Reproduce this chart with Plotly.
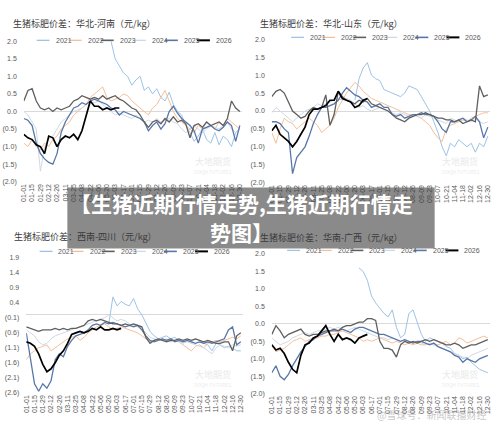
import plotly.graph_objects as go

W, H = 500, 437

years = ["2021", "2022", "2023", "2024", "2025", "2026"]
colors = {"2021": "#9dc3e6", "2022": "#f5bf98", "2023": "#5f5f5f",
          "2024": "#cfd8e6", "2025": "#5877a8", "2026": "#000000"}
widths = {"2021": 1.0, "2022": 1.0, "2023": 1.3, "2024": 1.0, "2025": 1.3, "2026": 1.7}
draw_order = ["2021", "2022", "2024", "2025", "2023", "2026"]

# weekly points, day of (leap) year
days = list(range(0, 365, 7))
tick_days = list(range(0, 365, 14))
tick_labels = ["01-01", "01-15", "01-29", "02-12", "02-26", "03-11", "03-25", "04-08",
               "04-22", "05-06", "05-20", "06-03", "06-17", "07-01", "07-15", "07-29",
               "08-12", "08-26", "09-09", "09-23", "10-07", "10-21", "11-04", "11-18",
               "12-02", "12-16", "12-30"]

# 华北-河南
hn_2021 = [None] * 21 + [2.0, 1.5, 1.3, 1.1, 1.0, 0.75, 0.9, 1.0, 0.6, 0.7, 0.5, 0.65, 0.4, 0.3,
                         0.55, 0.2, 0.0, -0.1, -0.4, -0.6, -0.85, -0.7, -0.5, -0.8, -0.9, -0.6,
                         -0.95, -0.7, -0.8, -1.0, -0.6, -0.5]
hn_2022 = [-0.9, -1.0, -0.8, -1.0, -1.1, -0.9, -1.0, -0.8, -0.7, -0.5,
           -0.4, -0.3, -0.1, 0.0, 0.1, 0.2, 0.4, 0.5, 0.6, 0.7,
           0.4, 0.3, 0.35, 0.4, 0.5, 0.45, 0.3, 0.2, 0.1, 0.0,
           -0.1, 0.1, 0.2, 0.4, 0.6, 0.3, 0.0, -0.2, -0.3, -0.4,
           -0.5, -0.6, -0.4, -0.5, -0.3, -0.4, -0.5, -0.3, -0.4, -0.2,
           -0.3, -0.4, -0.5]
hn_2023 = [0.3, 0.6, 0.65, 0.3, 0.1, 0.05, 0.1, 0.0, 0.1, 0.05,
           0.1, 0.15, 0.3, 0.35, 0.45, 0.4, 0.35, 0.4, 0.35, 0.45,
           0.35, 0.4, 0.45, 0.35, 0.3, 0.2, 0.1, 0.05, -0.1, -0.3,
           -0.45, -0.3, -0.25, -0.35, -0.2, -0.3, -0.15, -0.3, -0.25, -0.35,
           -0.75, -0.4, -0.35, -0.45, -0.3, -0.4, -0.35, -0.3, -0.4, -0.2,
           0.3, 0.1, 0.0]
hn_2024 = [0.0, -0.1, -0.3, -0.5, -1.7, -1.0, -0.8, -0.7, -0.5, -0.3,
           -0.2, -0.1, 0.0, 0.05, 0.1, 0.2, 0.3, 0.25, 0.3, 0.2,
           0.1, 0.0, -0.1, -0.05, -0.1, -0.15, -0.2, -0.1, -0.2, -0.3,
           -0.25, -0.3, -0.2, -0.3, -0.25, -0.2, -0.3, -0.35, -0.5, -0.6,
           -0.5, -0.4, -0.5, -0.6, -0.5, -0.4, -0.45, -0.5, -0.4, -0.3,
           -0.5, -0.6, -0.5]
hn_2025 = [-0.2, -0.25, -0.4, -0.9, -1.2, -1.35, -1.45, -1.5, -1.2, -0.6,
           -0.3, -0.1, 0.1, 0.15, 0.25, 0.2, 0.3, 0.35, 0.3, 0.25,
           0.2, 0.1, 0.05, -0.1, 0.0, -0.05, -0.1, -0.15, -0.2, -0.3,
           -0.55, -0.4, -0.3, -0.5, -0.35, 0.0, 0.15, -0.05, -0.2, -0.3,
           -0.4, -0.55, -0.9, -0.5, -0.45, -0.4, -0.5, -0.55, -0.45, -0.3,
           -0.4, -0.85, -0.4]
hn_2026 = [-0.65, -0.75, -0.8, -0.95, -1.0, -1.2, -0.7, -0.75, -1.0, -0.8,
           -0.7, -0.75, -0.65, -0.8, -0.55, -0.15, 0.3, 0.15, 0.15, 0.05,
           0.1, 0.05, 0.1, 0.1]

# 华北-山东
sd_2021 = [None] * 20 + [0.3, 0.9, 1.2, 1.35, 1.0, 0.9, 0.85, 0.6, 0.55, 0.5, 0.45, 0.4, 0.5,
                         0.7, 0.65, 0.6, 0.4, 0.2, 0.0, -0.3, -0.6, -1.0, -1.25, -0.9, -1.0,
                         -0.8, -0.9, -1.0, -0.9, -1.15, -0.9, -1.0, -0.7]
sd_2022 = [-0.6, -0.9, -0.5, -0.2, -0.3, -0.35, -0.5, -0.4, -0.3, -0.2,
           -0.3, -0.4, -0.6, -0.5, -0.4, -0.2, 0.1, 0.3, 0.5, 0.65,
           0.8, 0.7, 0.55, 0.45, 0.35, 0.3, 0.25, 0.2, 0.15, 0.1,
           0.05, 0.0, -0.05, -0.1, -0.1, -0.15, -0.2, -0.3, -0.4, -0.6,
           -0.75, -0.85, -0.5, -0.4, -0.35, -0.3, -0.25, -0.3, -0.2, -0.15,
           -0.1, -0.05, -0.05]
sd_2023 = [0.4, 0.55, 0.6, 0.5, 0.25, 0.0, -0.1, -0.2, -0.15, 0.0,
           0.1, 0.05, 0.1, 0.45, -0.4, -0.1, 0.55, 0.4, 0.3, 0.25,
           0.2, 0.3, 0.25, 0.35, 0.2, 0.15, 0.1, 0.05, 0.0, -0.1,
           -0.2, -0.25, -0.3, -0.2, -0.15, -0.1, -0.1, -0.05, -0.1, -0.15,
           -0.2, -0.2, -0.25, -0.25, -0.3, -0.25, -0.35, -0.3, -0.25, -0.3,
           0.7, 0.4, 0.45]
sd_2024 = [-0.05, 0.1, 0.0, -0.1, -0.2, -0.3, -0.2, -0.1, 0.0, 0.05,
           0.1, 0.2, 0.15, 0.2, 0.25, 0.3, 0.35, 0.3, 0.35, 0.3,
           0.2, 0.1, 0.15, 0.05, 0.0, 0.05, 0.1, 0.05, 0.0, -0.05,
           -0.1, -0.05, -0.1, -0.15, -0.1, -0.15, -0.2, -0.1, -0.15, -0.2,
           -0.25, -0.3, -0.35, -0.2, -0.25, -0.3, -0.2, -0.25, -0.3, -0.2,
           -0.3, -0.35, -0.3]
sd_2025 = [-0.3, -0.3, -0.35, -0.5, -0.6, -1.75, -1.3, -1.15, -1.0, -0.7,
           -0.35, -0.1, 0.1, 0.1, 0.15, 0.2, 0.3, 0.5, 0.65, 0.55,
           0.45, 0.4, 0.3, 0.25, 0.1, 0.15, 0.2, 0.1, 0.1, -0.1,
           -0.15, -0.1, -0.2, -0.15, -0.1, -0.1, -0.05, -0.1, -0.1, -0.15,
           -0.3, -0.5, -0.6, -0.3, -0.3, -0.25, -0.2, -0.3, -0.25, -0.15,
           -0.3, -0.75, -0.45]
sd_2026 = [-0.55, -0.4, -0.65, -0.75, -0.85, -1.0, -0.85, -0.65, -0.45, -0.1,
           0.05, 0.05, 0.1, 0.15, 0.3, 0.3, 0.55, 0.35, 0.3, 0.25,
           0.1, 0.15, 0.3, 0.35]

# 西南-四川
sc_2021 = [None] * 20 + [-0.3, 0.6, 0.3, 0.45, 0.35, 0.3, 0.55, 0.2, 0.0, -0.3, -0.55, -0.7,
                         -0.8, -0.75, -0.7, -0.8, -0.75, -0.85, -0.9, -0.85, -0.9, -0.8, -0.85,
                         -0.95, -1.0, -1.2, -0.95, -1.0, -1.1, -1.05, -1.1, -1.2, -1.2]
sc_2022 = [-1.5, -1.3, -1.2, -1.1, -1.05, -1.0, -1.2, -1.1, -1.0, -0.9,
           -0.8, -0.75, -0.7, -0.85, -0.75, -0.6, -0.5, -0.4, -0.35, -0.3,
           -0.4, -0.5, -0.45, -0.4, -0.45, -0.5, -0.55, -0.6, -0.7, -0.8,
           -0.9, -0.85, -0.8, -0.85, -0.8, -0.9, -0.85, -0.9, -1.0, -1.1,
           -1.2, -1.05, -1.0, -1.1, -0.95, -0.9, -0.85, -0.9, -0.85, -0.8,
           -0.75, -0.8, -0.7]
sc_2023 = [-0.4, -0.45, -0.5, -0.55, -0.5, -0.5, -0.5, -0.45, -0.5, -0.45,
           -0.5, -0.45, -0.45, -0.4, -0.35, -0.2, -0.15, -0.2, -0.15, -0.2,
           -0.25, -0.3, -0.3, -0.35, -0.3, -0.35, -0.3, -0.35, -0.4, -0.75,
           -0.95, -0.85, -0.8, -0.85, -0.9, -0.85, -0.85, -0.8, -0.85, -0.8,
           -0.85, -0.8, -0.85, -0.9, -0.85, -0.9, -0.95, -0.95, -0.9, -0.9,
           -1.2, -0.7, -0.6]
sc_2024 = [-0.5, -0.6, -0.7, -0.9, -1.0, -0.95, -0.8, -0.7, -0.65, -0.6,
           -0.55, -0.5, -0.45, -0.4, -0.35, -0.3, -0.25, -0.2, -0.15, -0.1,
           0.0, -0.1, -0.2, -0.15, -0.2, -0.3, -0.35, -0.4, -0.5, -0.6,
           -0.75, -0.8, -0.85, -0.8, -0.85, -0.9, -0.85, -0.9, -0.95, -0.9,
           -0.95, -1.0, -1.05, -1.1, -1.2, -1.3, -1.1, -1.0, -1.05, -1.1,
           -1.0, -1.05, -1.0]
sc_2025 = [-0.6, -1.5, -2.3, -2.55, -2.3, -2.45, -2.2, -1.5, -1.3, -1.4,
           -1.05, -0.85, -0.7, -0.65, -0.6, -0.5, -0.35, -0.3, -0.35, -0.25,
           -0.3, -0.25, -0.3, -0.35, -0.4, -0.35, -0.4, -0.35, -0.5, -0.7,
           -0.85, -0.9, -0.85, -0.8, -0.85, -0.8, -0.9, -0.85, -0.9, -0.85,
           -0.9, -0.95, -0.9, -0.95, -0.9, -0.95, -0.9, -0.85, -0.8, -0.5,
           -0.4, -1.0, -0.9]
sc_2026 = [-0.9, -0.95, -1.05, -1.3, -1.65, -1.9, -1.8, -1.6, -1.35, -1.2,
           -0.95, -0.65, -0.6, -0.55, -0.6, -0.55, -0.45, -0.5, -0.4, -0.5,
           -0.5, -0.45, -0.5, -0.45]

# 华南-广西
gx_2021 = [None] * 21 + [1.6, 1.5, 1.25, 0.8, 0.6, 0.45, 0.3, 0.2, 0.4, -0.1, -0.4, -0.3, 0.3,
                         0.4, 0.05, -0.3, -0.5, -0.4, -0.45, -0.5, -0.55, -0.65, -0.7, -0.85,
                         -0.9, -1.0, -0.95, -1.1, -1.2, -1.3, -1.35, -1.4]
gx_2022 = [-0.6, -0.8, -0.75, -0.7, -0.6, -0.5, -0.45, -0.4, -0.5, -0.45,
           -0.4, -0.4, -0.35, -0.35, -0.3, -0.3, -0.25, -0.2, -0.25, -0.3,
           -0.35, -0.4, -0.5, -0.45, -0.5, -0.45, -0.4, -0.45, -0.5, -0.55,
           -0.5, -0.55, -0.6, -0.55, -0.6, -0.55, -0.6, -0.6, -0.55, -0.6,
           -0.6, -0.55, -0.5, -0.6, -0.55, -0.4, -0.45, -0.55, -0.5, -0.45,
           -0.4, -0.35, -0.4]
gx_2023 = [-0.3, -0.05, -0.2, -0.4, -0.3, -0.25, -0.2, -0.15, -0.3, -0.35,
           -0.3, -0.3, -0.25, -0.2, -0.2, -0.15, -0.2, -0.1, -0.05, -0.05,
           0.0, 0.05, 0.05, 0.15, 0.15, 0.1, -0.5, -0.7, -0.7, -0.75,
           -0.95, -0.6, -0.5, -0.55, -0.5, -0.55, -0.5, -0.45, -0.5, -0.45,
           -0.5, -0.55, -0.6, -0.6, -0.55, -0.6, -0.7, -0.65, -0.6, -0.6,
           -0.55, -0.5, -0.45]
gx_2024 = [-0.4, -0.5, -0.6, -0.55, -0.5, -0.4, -0.35, -0.3, -0.25, -0.3,
           -0.25, -0.2, -0.2, -0.15, -0.1, -0.15, -0.1, -0.15, -0.2, -0.15,
           -0.1, -0.15, -0.2, -0.25, -0.3, -0.35, -0.4, -0.4, -0.45, -0.4,
           -0.45, -0.5, -0.45, -0.5, -0.55, -0.5, -0.55, -0.6, -0.55, -0.6,
           -0.65, -0.7, -0.75, -0.8, -0.85, -0.9, -0.95, -1.0, -0.9, -0.85,
           -0.8, -0.75, -0.7]
gx_2025 = [-1.4, -1.2, -1.5, -1.6, -1.45, -1.2, -1.0, -0.8, -0.65, -0.5,
           -0.45, -0.35, -0.3, -0.25, -0.2, -0.2, -0.2, -0.15, -0.2, -0.25,
           -0.15, -0.1, -0.1, -0.15, -0.2, -0.25, -0.3, -0.3, -0.35, -0.4,
           -0.45, -0.5, -0.45, -0.5, -0.55, -0.5, -0.5, -0.55, -0.6, -0.55,
           -0.65, -0.7, -0.75, -0.8, -0.9, -0.95, -1.1, -1.0, -1.05, -1.1,
           -1.0, -0.95, -0.9]
gx_2026 = [-0.6, -0.75, -0.7, -0.85, -1.1, -1.3, -1.4, -0.9, -0.6, -0.55,
           -0.4, -0.35, -0.2, -0.05, -0.3, -0.5, -0.3, -0.45, -0.4, -0.45,
           -0.55, -0.4, -0.35, -0.3]

panels = [
    dict(title="生猪标肥价差：华北-河南（元/kg）",
         series=dict(zip(years, [hn_2021, hn_2022, hn_2023, hn_2024, hn_2025, hn_2026])),
         ymin=-2.0, nticks=9, box=(20, 240, 38, 181), title_at=(7, 20),
         legend_at=(50, 37, 32.4), logo_at=(211, 160)),
    dict(title="生猪标肥价差：华北-山东（元/kg）",
         series=dict(zip(years, [sd_2021, sd_2022, sd_2023, sd_2024, sd_2025, sd_2026])),
         ymin=-2.0, nticks=9, box=(270.5, 490.5, 36, 182), title_at=(257, 20),
         legend_at=(307, 34, 31.4), logo_at=(461, 160)),
    dict(title="生猪标肥价差：西南-四川（元/kg）",
         series=dict(zip(years, [sc_2021, sc_2022, sc_2023, sc_2024, sc_2025, sc_2026])),
         ymin=-2.6, nticks=10, box=(22.5, 241, 258.7, 396), title_at=(8, 237),
         legend_at=(53, 252, 31.4), logo_at=(211, 377)),
    dict(title="生猪标肥价差：华南-广西（元/kg）",
         series=dict(zip(years, [gx_2021, gx_2022, gx_2023, gx_2024, gx_2025, gx_2026])),
         ymin=-2.0, nticks=9, box=(270.5, 490.5, 254.7, 397), title_at=(257, 238),
         legend_at=(303, 251, 32.0), logo_at=(461, 377)),
]

TICK_FONT = dict(family="Liberation Sans Narrow, Liberation Sans, Arial", size=7, color="#595959")
CJK = "Noto Sans CJK SC"


def fx(v):
    return v / W


def fy(v):
    return 1 - v / H


def fmt(v):
    return f"({-v:.1f})" if v < -1e-9 else f"{v:.1f}"


fig = go.Figure()
annotations = []
shapes = []

for n, p in enumerate(panels, start=1):
    sfx = "" if n == 1 else str(n)
    for yr in draw_order:
        vals = p["series"][yr]
        fig.add_trace(go.Scatter(
            x=days[:len(vals)], y=vals, mode="lines", name=yr, showlegend=False,
            line=dict(color=colors[yr], width=widths[yr]),
            xaxis="x" + sfx, yaxis="y" + sfx, hoverinfo="skip"))

    x0, x1, y0, y1 = p["box"]
    yticks = [round(p["ymin"] + 0.5 * k, 1) for k in range(p["nticks"])]
    fig.update_layout(**{
        "xaxis" + sfx: dict(domain=[fx(x0), fx(x1)], range=[0, 367], anchor="y" + sfx,
                            tickvals=tick_days, ticktext=tick_labels, tickangle=-90,
                            tickfont=TICK_FONT, showgrid=False, zeroline=False,
                            showline=False, ticks="", fixedrange=True),
        "yaxis" + sfx: dict(domain=[fy(y1), fy(y0)], range=[yticks[0], yticks[-1]],
                            anchor="x" + sfx, tickvals=yticks,
                            ticktext=[fmt(v) for v in yticks], tickfont=TICK_FONT,
                            showgrid=False, zeroline=True, zerolinecolor="#d9d9d9",
                            zerolinewidth=1, showline=False, ticks="",
                            ticklabelstandoff=6, fixedrange=True),
    })

    tx, ty = p["title_at"]
    annotations.append(dict(x=fx(tx), y=fy(ty), xref="paper", yref="paper", text=p["title"],
                            showarrow=False, xanchor="left", yanchor="middle",
                            font=dict(family=CJK, size=9, color="#3a3a3a")))

    lx, ly, step = p["legend_at"]
    for k, yr in enumerate(years):
        sx = lx + k * step
        shapes.append(dict(type="line", xref="paper", yref="paper",
                           x0=fx(sx - 17), x1=fx(sx - 4), y0=fy(ly), y1=fy(ly),
                           line=dict(color=colors[yr], width=widths[yr] + 0.3)))
        annotations.append(dict(x=fx(sx), y=fy(ly), xref="paper", yref="paper", text=yr,
                                showarrow=False, xanchor="left", yanchor="middle",
                                font=TICK_FONT))

    gx, gy = p["logo_at"]
    annotations.append(dict(x=fx(gx), y=fy(gy), xref="paper", yref="paper", text="大地期货",
                            showarrow=False, xanchor="center", yanchor="middle",
                            font=dict(family=CJK, size=9, color="#e9e9e9")))
    annotations.append(dict(x=fx(gx), y=fy(gy + 11), xref="paper", yref="paper",
                            text="DDQH FUTURES", showarrow=False, xanchor="center",
                            yanchor="middle", font=dict(family=CJK, size=5, color="#ececec")))

# overlay banner
shapes.append(dict(type="rect", xref="paper", yref="paper", x0=fx(64), x1=fx(435),
                   y0=fy(249), y1=fy(187), fillcolor="rgba(60,60,60,0.6)", line=dict(width=0),
                   layer="above"))
banner_font = dict(family=CJK, size=21, color="white", weight="bold")
annotations.append(dict(x=fx(240), y=fy(203), xref="paper", yref="paper",
                        text="【生猪近期行情走势,生猪近期行情走", showarrow=False,
                        xanchor="center", yanchor="middle", font=banner_font))
annotations.append(dict(x=fx(240), y=fy(232), xref="paper", yref="paper",
                        text="势图】", showarrow=False,
                        xanchor="center", yanchor="middle", font=banner_font))
annotations.append(dict(x=fx(432), y=fy(418), xref="paper", yref="paper",
                        text="@雪球号：新闻联播财经", showarrow=False,
                        xanchor="center", yanchor="middle",
                        font=dict(family=CJK, size=10, color="rgba(150,150,150,0.55)")))

fig.update_layout(width=W, height=H, margin=dict(l=0, r=0, t=0, b=0),
                  paper_bgcolor="white", plot_bgcolor="white",
                  annotations=annotations, shapes=shapes)

fig.write_html("out.html", config={"displayModeBar": False},
               post_script="document.body.style.margin = '0px';")
